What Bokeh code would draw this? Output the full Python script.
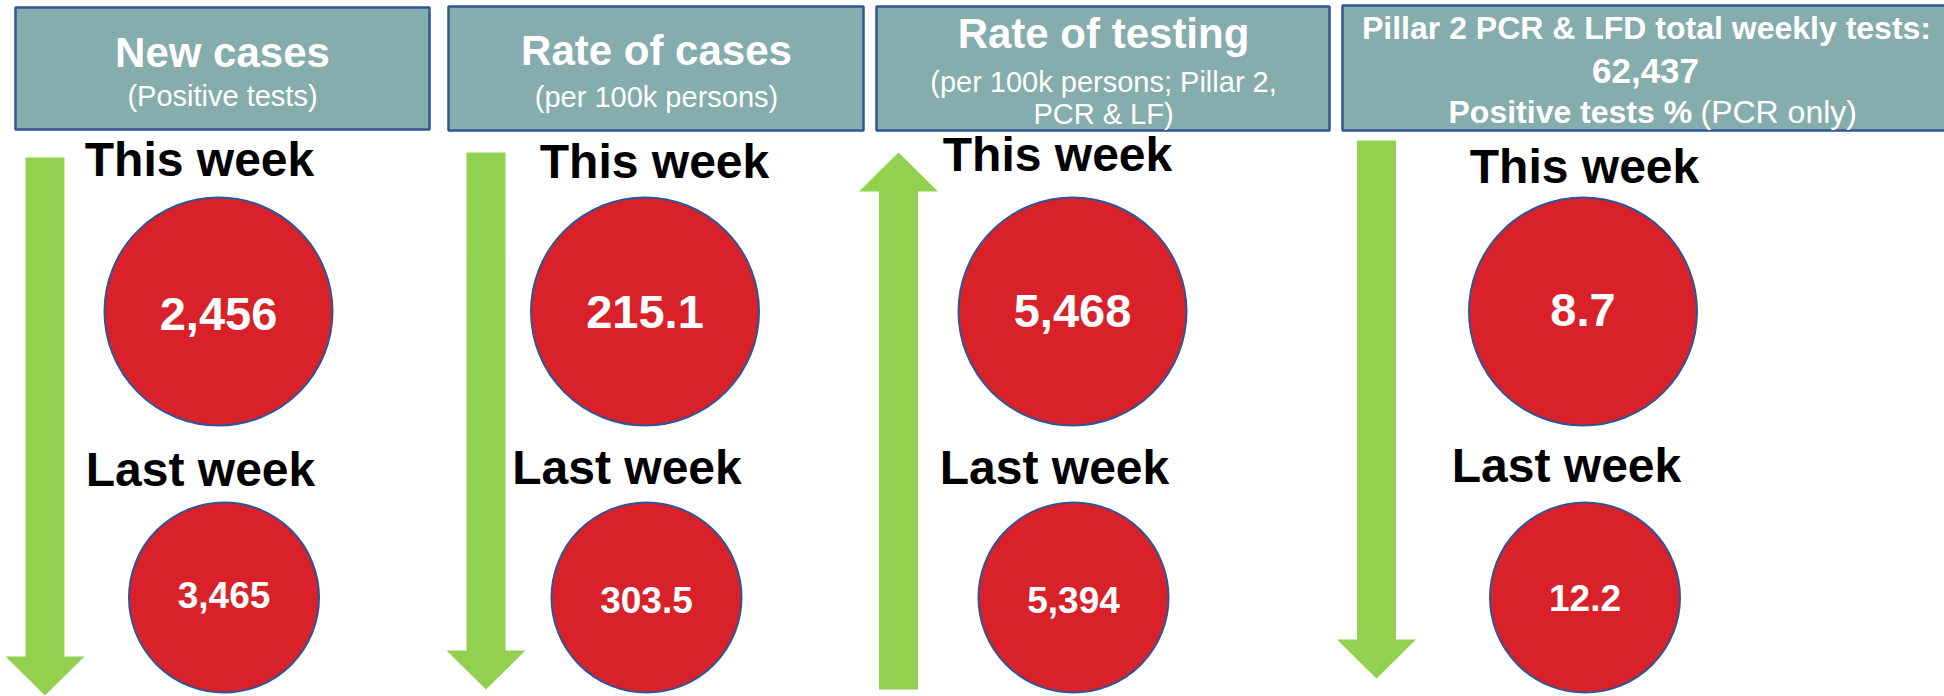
from bokeh.plotting import figure
from bokeh.models import Range1d
from bokeh.core.properties import value
from bokeh.embed import file_html
from bokeh.resources import INLINE

# ---------------- data ----------------
titles = ["New cases", "Rate of cases", "Rate of testing"]
subtitles = [["(Positive tests)"], ["(per 100k persons)"],
             ["(per 100k persons; Pillar 2,", "PCR & LF)"]]
pillar2_title = "Pillar 2 PCR & LFD total weekly tests:"
pillar2_total = 62437
pillar2_sub_bold = "Positive tests %"
pillar2_sub_reg = "(PCR only)"
this_week = [2456, 215.1, 5468, 8.7]
last_week = [3465, 303.5, 5394, 12.2]
decimals = [0, 1, 0, 1]
trend = ["down", "down", "up", "down"]
this_label = "This week"
last_label = "Last week"

# ---------------- style / layout ----------------
FONT = value("Liberation Sans")
HEAD_FILL = "#86ADAD"
HEAD_LINE = "#2F5597"
RED = "#D92129"
GREEN = "#92D050"

W, H = 1944, 696

box_l = [15, 448, 876, 1342]
box_r = [429, 863, 1329, 1960]
box_t = [7, 6, 6, 5]
box_b = [129, 130, 130, 130]

arrow_cx = [44.5, 485.5, 898, 1376]
arrow_top = [157, 152, 152, 140]
arrow_bot = [695, 689, 689, 678]
shaft_half = 19.5
head_half = 39.5
head_len = 39

c_this_x = [218, 644.5, 1072, 1582.5]
c_this_y = 311
r_this = 114
c_last_x = [223.5, 646, 1073, 1584.5]
c_last_y = 597
r_last = 95

this_lbl_x = [199, 654, 1057, 1584]
this_lbl_y = [178, 180, 173, 185]
last_lbl_x = [200, 626.5, 1054, 1566]
last_lbl_y = [488, 486, 486, 484]
val_this_y = [332, 330, 329, 328]
val_last_y = [608, 613, 613, 611]


def fmt(v, d):
    return f"{v:,.{d}f}"


p = figure(width=W, height=H, x_range=Range1d(0, W),
           y_range=Range1d(H, 0), output_backend="svg",
           toolbar_location=None, x_axis_type=None, y_axis_type=None,
           min_border=0, outline_line_color=None)
p.grid.visible = False
p.background_fill_color = "white"
p.border_fill_color = "white"

# header boxes
p.quad(left=box_l, right=box_r, top=box_t, bottom=box_b,
       fill_color=HEAD_FILL, line_color=HEAD_LINE, line_width=2.5)

# arrows
xs, ys = [], []
for i, t in enumerate(trend):
    cx = arrow_cx[i]
    if t == "down":
        tail, tip, d = arrow_top[i], arrow_bot[i], 1
    else:
        tail, tip, d = arrow_bot[i], arrow_top[i], -1
    base = tip - d * head_len
    xs.append([cx - shaft_half, cx + shaft_half, cx + shaft_half, cx + head_half,
               cx, cx - head_half, cx - shaft_half])
    ys.append([tail, tail, base, base, tip, base, base])
p.patches(xs, ys, fill_color=GREEN, line_color=None)

# circles
p.circle(x=c_this_x, y=[c_this_y] * 4, radius=r_this, fill_color=RED,
         line_color=HEAD_LINE, line_width=2)
p.circle(x=c_last_x, y=[c_last_y] * 4, radius=r_last, fill_color=RED,
         line_color=HEAD_LINE, line_width=2)


def txt(x, y, s, size, color="white", bold=True, align="center"):
    # compensate the renderer's baseline shift
    shift = 0.55 * size - 7
    y = [v - shift for v in y]
    p.text(x=x, y=y, text=s, text_font=FONT, text_font_size=value(f"{size}px"),
           text_font_style="bold" if bold else "normal", text_color=color,
           text_align=align, text_baseline="alphabetic")


# header texts
title_x = [222, 656, 1103]
title_y = [68, 66, 49]
sub_y = [[104], [105], [90, 122]]
for i in range(3):
    txt([title_x[i]], [title_y[i]], [titles[i]], 42)
    for j, s in enumerate(subtitles[i]):
        txt([title_x[i]], [sub_y[i][j]], [s], 29, bold=False)

txt([1646], [38], [pillar2_title], 32)
txt([1645], [83], [fmt(pillar2_total, 0)], 35)
txt([1448], [122], [pillar2_sub_bold], 32, align="left")
txt([1700], [122], [pillar2_sub_reg], 32, bold=False, align="left")

# week labels
txt(this_lbl_x, this_lbl_y, [this_label] * 4, 48, color="black")
txt(last_lbl_x, last_lbl_y, [last_label] * 4, 48, color="black")

# values
txt(c_this_x, val_this_y, [fmt(v, d) for v, d in zip(this_week, decimals)], 47)
txt(c_last_x, val_last_y, [fmt(v, d) for v, d in zip(last_week, decimals)], 37)

open("out.html", "w").write(file_html(p, INLINE))
